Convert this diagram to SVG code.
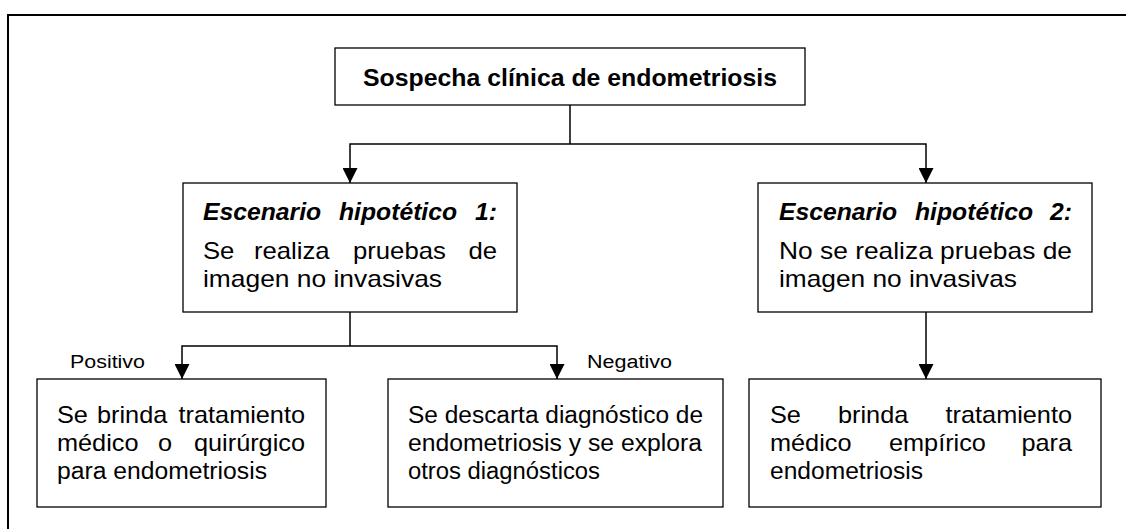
<svg xmlns="http://www.w3.org/2000/svg" width="1126" height="529" viewBox="0 0 1126 529">
<defs>
<style>
.frame{fill:none;stroke:#000;stroke-width:2}
.box{fill:#fff;stroke:#000;stroke-width:1.3}
.conn{fill:none;stroke:#000;stroke-width:1.5}
.t{font-family:"Liberation Sans",Arial,sans-serif;fill:#000}
.title{font-size:24px;font-weight:bold}
.mid{font-size:24px}
.bi{font-weight:bold;font-style:italic}
.bot{font-size:23px}
.lab{font-size:18px}
</style>
<marker id="arr" viewBox="0 0 15 15" refX="15" refY="7.5" markerWidth="15" markerHeight="15" markerUnits="userSpaceOnUse" orient="auto">
<path d="M0,0 L15,7.5 L0,15 Z" fill="#000"/>
</marker>
</defs>
<rect width="1126" height="529" fill="#fff"/>
<rect class="frame" x="8" y="15" width="1130" height="530"/>

<g id="connectors">
<path class="conn" d="M570,105 V144"/>
<path class="conn" d="M570,144 H350 V183" marker-end="url(#arr)"/>
<path class="conn" d="M570,144 H926 V183" marker-end="url(#arr)"/>
<path class="conn" d="M350,312 V346"/>
<path class="conn" d="M350,346 H182 V379" marker-end="url(#arr)"/>
<path class="conn" d="M350,346 H557 V379" marker-end="url(#arr)"/>
<path class="conn" d="M926,312 V379" marker-end="url(#arr)"/>
<text class="t lab" x="70" y="368" textLength="75" lengthAdjust="spacingAndGlyphs">Positivo</text>
<text class="t lab" x="587" y="368" textLength="85" lengthAdjust="spacingAndGlyphs">Negativo</text>
</g>

<g id="n-sospecha">
<rect class="box" x="335" y="48" width="470" height="57"/>
<text class="t title" x="363" y="86" textLength="414" lengthAdjust="spacingAndGlyphs">Sospecha clínica de endometriosis</text>
</g>

<g id="n-escenario1">
<rect class="box" x="183" y="183" width="334" height="129"/>
<text class="t mid bi" transform="translate(203 220) scale(1.03 1)">Escenario</text>
<text class="t mid bi" transform="translate(339 220) scale(1.03 1)">hipotético</text>
<text class="t mid bi" text-anchor="end" transform="translate(497 220) scale(1.03 1)">1:</text>
<text class="t mid" transform="translate(203 259) scale(1.07 1)">Se</text>
<text class="t mid" transform="translate(254 259) scale(1.07 1)">realiza</text>
<text class="t mid" transform="translate(353 259) scale(1.07 1)">pruebas</text>
<text class="t mid" text-anchor="end" transform="translate(497 259) scale(1.07 1)">de</text>
<text class="t mid" x="203" y="287" textLength="239" lengthAdjust="spacingAndGlyphs">imagen no invasivas</text>
</g>

<g id="n-escenario2">
<rect class="box" x="758" y="183" width="334" height="129"/>
<text class="t mid bi" transform="translate(779 220) scale(1.03 1)">Escenario</text>
<text class="t mid bi" transform="translate(915 220) scale(1.03 1)">hipotético</text>
<text class="t mid bi" text-anchor="end" transform="translate(1072 220) scale(1.03 1)">2:</text>
<text class="t mid" x="779" y="259" textLength="293" lengthAdjust="spacingAndGlyphs">No se realiza pruebas de</text>
<text class="t mid" x="779" y="287" textLength="238" lengthAdjust="spacingAndGlyphs">imagen no invasivas</text>
</g>

<g id="n-positivo">
<rect class="box" x="37" y="379" width="289" height="128"/>
<text class="t bot" transform="translate(57 423) scale(1.1 1)">Se</text>
<text class="t bot" transform="translate(97 423) scale(1.1 1)">brinda</text>
<text class="t bot" text-anchor="end" transform="translate(305 423) scale(1.1 1)">tratamiento</text>
<text class="t bot" transform="translate(57 451) scale(1.1 1)">médico</text>
<text class="t bot" transform="translate(158 451) scale(1.1 1)">o</text>
<text class="t bot" text-anchor="end" transform="translate(305 451) scale(1.1 1)">quirúrgico</text>
<text class="t bot" x="57" y="479" textLength="210" lengthAdjust="spacingAndGlyphs">para endometriosis</text>
</g>

<g id="n-negativo">
<rect class="box" x="388" y="379" width="335" height="128"/>
<text class="t bot" x="408" y="423" textLength="295" lengthAdjust="spacingAndGlyphs">Se descarta diagnóstico de</text>
<text class="t bot" x="408" y="451" textLength="294" lengthAdjust="spacingAndGlyphs">endometriosis y se explora</text>
<text class="t bot" x="408" y="479" textLength="192" lengthAdjust="spacingAndGlyphs">otros diagnósticos</text>
</g>

<g id="n-empirico">
<rect class="box" x="749" y="379" width="352" height="128"/>
<text class="t bot" transform="translate(770 423) scale(1.1 1)">Se</text>
<text class="t bot" transform="translate(838 423) scale(1.1 1)">brinda</text>
<text class="t bot" text-anchor="end" transform="translate(1072 423) scale(1.1 1)">tratamiento</text>
<text class="t bot" transform="translate(770 451) scale(1.1 1)">médico</text>
<text class="t bot" transform="translate(889 451) scale(1.1 1)">empírico</text>
<text class="t bot" text-anchor="end" transform="translate(1072 451) scale(1.1 1)">para</text>
<text class="t bot" x="770" y="479" textLength="153" lengthAdjust="spacingAndGlyphs">endometriosis</text>
</g>
</svg>
